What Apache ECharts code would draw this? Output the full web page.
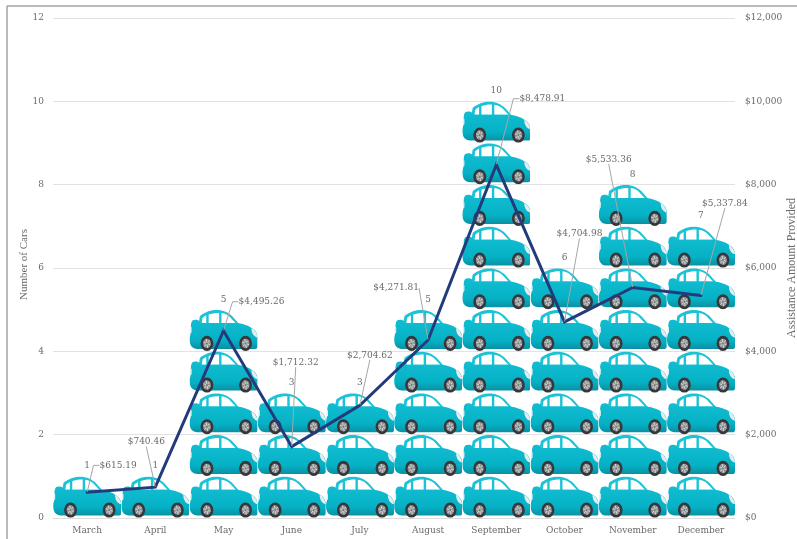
<!DOCTYPE html>
<html>
<head>
<meta charset="utf-8">
<style>html,body{margin:0;padding:0;background:#fff}#chart{width:797px;height:539px}</style>
<script src="https://cdn.jsdelivr.net/npm/echarts@6/dist/echarts.min.js"></script>
</head>
<body>
<div id="chart"></div>
<script>
const months = ['March','April','May','June','July','August','September','October','November','December'];
const carCounts = [1,1,5,3,3,5,10,6,8,7];
const assistanceAmounts = [615.19,740.46,4495.26,1712.32,2704.62,4271.81,8478.91,4704.98,5533.36,5337.84];
const carTicks = [0,2,4,6,8,10,12];
const amountTicks = [0,2000,4000,6000,8000,10000,12000];

// Offsets of the dollar labels from their default spot above each point
const amountLabelShift = [
  [31,-22],[-9,-40],[38,-24],[4,-79],[10,-45],[-32,-47],[46,-61],[15,-83],[-24,-123],[24,-87]
];
// Length of the short horizontal stub on the leader lines that have one
const leaderStub = [6,0,6,0,0,0,6,0,0,0];

const grid = {left:53, right:62, top:18, bottom:21};
const plotHeight = 539 - grid.top - grid.bottom;
const plotWidth = 797 - grid.left - grid.right;
const carHeight = plotHeight / 12;
const carWidth = plotWidth / 10;

// One wheel: tyre, rim, spokes, hub
function wheel(cx, cy) {
  let spokes = '';
  for (let a = 0; a < 6; a++) {
    const r = a * Math.PI / 3 + 0.3;
    spokes += `<line x1="${cx}" y1="${cy}" x2="${(cx + 3.6 * Math.cos(r)).toFixed(2)}" y2="${(cy + 4.6 * Math.sin(r)).toFixed(2)}" stroke="#e4e6e8" stroke-width=".8"/>`;
  }
  return `<ellipse cx="${cx}" cy="${cy}" rx="6.4" ry="7.6" fill="#37373a"/><ellipse cx="${cx}" cy="${cy}" rx="3.9" ry="4.8" fill="#8f9396"/>${spokes}<ellipse cx="${cx}" cy="${cy}" rx="1" ry="1.2" fill="#77797c"/>`;
}

const carSvg = `<svg xmlns="http://www.w3.org/2000/svg" width="272" height="168" viewBox="0 0 68 42">
<defs><linearGradient id="b" gradientUnits="userSpaceOnUse" x1="0" y1="10" x2="0" y2="40">
<stop offset="0" stop-color="#12bdd1"/><stop offset=".7" stop-color="#05b1c5"/><stop offset="1" stop-color="#0a8fa2"/></linearGradient></defs>
<path d="M9,15 L10.5,6.5 C16,2 22,.4 27,.4 C34,.4 38.5,3 42.5,6.5 L50,15 Z" fill="#1cc3d6"/>
<path d="M12.4,13.6 L13,8.4 C14.2,7.2 15.5,6.3 16.8,5.6 L16.8,13.6 Z" fill="#fff"/>
<path d="M19.2,13.6 L19.2,4.9 C21.5,3.8 25,3.3 29.6,3.3 L29.6,13.6 Z" fill="#fff"/>
<path d="M32,13.6 L32,3.4 C35.8,3.8 38.6,5.4 41,8.1 L46.2,13.6 Z" fill="#fff"/>
<path d="M3,11 C5,9.8 8,10 10,11.5 L11,13.5 L48,13.5 C54,14.5 59,16 62,18.5 C65.5,20 68,24 68,28 L68,37 C68,38.8 67,39.6 65.5,39.6 L8,39.6 C3,39.6 .2,36 .2,30 C.2,26 1.8,24 1.6,20 C1.4,16 1.4,13 3,11 Z" fill="url(#b)"/>
<path d="M62,18.5 C65,20 67.5,24 68,28 C64.5,28 61.5,23 62,18.5 Z" fill="#e6ecee"/>
<path d="M1.6,17 C.4,19 .3,22 .8,24 L2.2,23 L2.2,18 Z" fill="#dff0f3"/>
${wheel(17.5,34)}${wheel(56,34)}
</svg>`;
const carSymbol = 'image://data:image/svg+xml;charset=utf-8,' + encodeURIComponent(carSvg);

const textColor = '#6a6a6a';
const labelFont = {fontFamily:'DejaVu Serif', fontSize:9, color:textColor};

const chart = echarts.init(document.getElementById('chart'), null, {renderer:'canvas'});
chart.setOption({
  animation:false,
  backgroundColor:'#fff',
  grid:{left:grid.left,right:grid.right,top:grid.top,bottom:grid.bottom,containLabel:false,outerBoundsMode:'none'},
  graphic:[
    {type:'line',silent:true,shape:{x1:7,y1:6,x2:797,y2:6},style:{stroke:'#a3a3a3',lineWidth:1.5}},
    {type:'line',silent:true,shape:{x1:7,y1:6,x2:7,y2:539},style:{stroke:'#a3a3a3',lineWidth:1.5}}
  ],
  xAxis:{
    type:'category',data:months,
    axisTick:{show:false},
    axisLine:{lineStyle:{color:'#dcdcdc',width:1}},
    axisLabel:Object.assign({margin:8,interval:0},labelFont)
  },
  yAxis:[
    {
      type:'value',min:carTicks[0],max:carTicks[carTicks.length-1],interval:carTicks[1],
      name:'Number of Cars',nameLocation:'middle',nameGap:23,nameMoveOverlap:false,
      nameTextStyle:{fontFamily:'Liberation Serif',fontSize:11,color:textColor,padding:[0,0,0,7]},
      axisLine:{show:false},axisTick:{show:false},
      splitLine:{lineStyle:{color:'#e2e2e2',width:1}},
      axisLabel:Object.assign({margin:9},labelFont)
    },
    {
      type:'value',min:amountTicks[0],max:amountTicks[amountTicks.length-1],interval:amountTicks[1],
      name:'Assistance Amount Provided',nameLocation:'middle',nameGap:51,nameMoveOverlap:false,
      nameTextStyle:{fontFamily:'Liberation Serif',fontSize:12,color:textColor},
      axisLine:{show:false},axisTick:{show:false},splitLine:{show:false},
      axisLabel:Object.assign({margin:10,formatter:v => v === 0 ? '$0' : '$' + v.toLocaleString('en-US')},labelFont)
    }
  ],
  series:[
    {
      name:'Number of Cars',type:'pictorialBar',yAxisIndex:0,data:carCounts,
      symbol:carSymbol,symbolRepeat:true,symbolSize:[carWidth,carHeight],symbolMargin:0,
      symbolPosition:'start',
      label:Object.assign({show:true,position:'top',distance:6,formatter:'{c}'},labelFont),
      z:2
    },
    {
      name:'Assistance Amount Provided',type:'line',yAxisIndex:1,
      data:assistanceAmounts.map((value,i) => ({value,labelLine:{length2:leaderStub[i]}})),
      showSymbol:true,showAllSymbol:true,symbol:'circle',symbolSize:1,smooth:false,
      itemStyle:{color:'#233b7c'},
      lineStyle:{color:'#233b7c',width:3,cap:'round',join:'miter'},
      label:Object.assign({
        show:true,position:'top',distance:0,
        formatter:p => '$' + p.value.toLocaleString('en-US',{minimumFractionDigits:2,maximumFractionDigits:2})
      },labelFont),
      labelLine:{show:true,lineStyle:{color:'#a6a6a6',width:1}},
      labelLayout:p => ({dx:amountLabelShift[p.dataIndex][0],dy:amountLabelShift[p.dataIndex][1],hideOverlap:false}),
      z:3
    }
  ]
});
</script>
</body>
</html>
